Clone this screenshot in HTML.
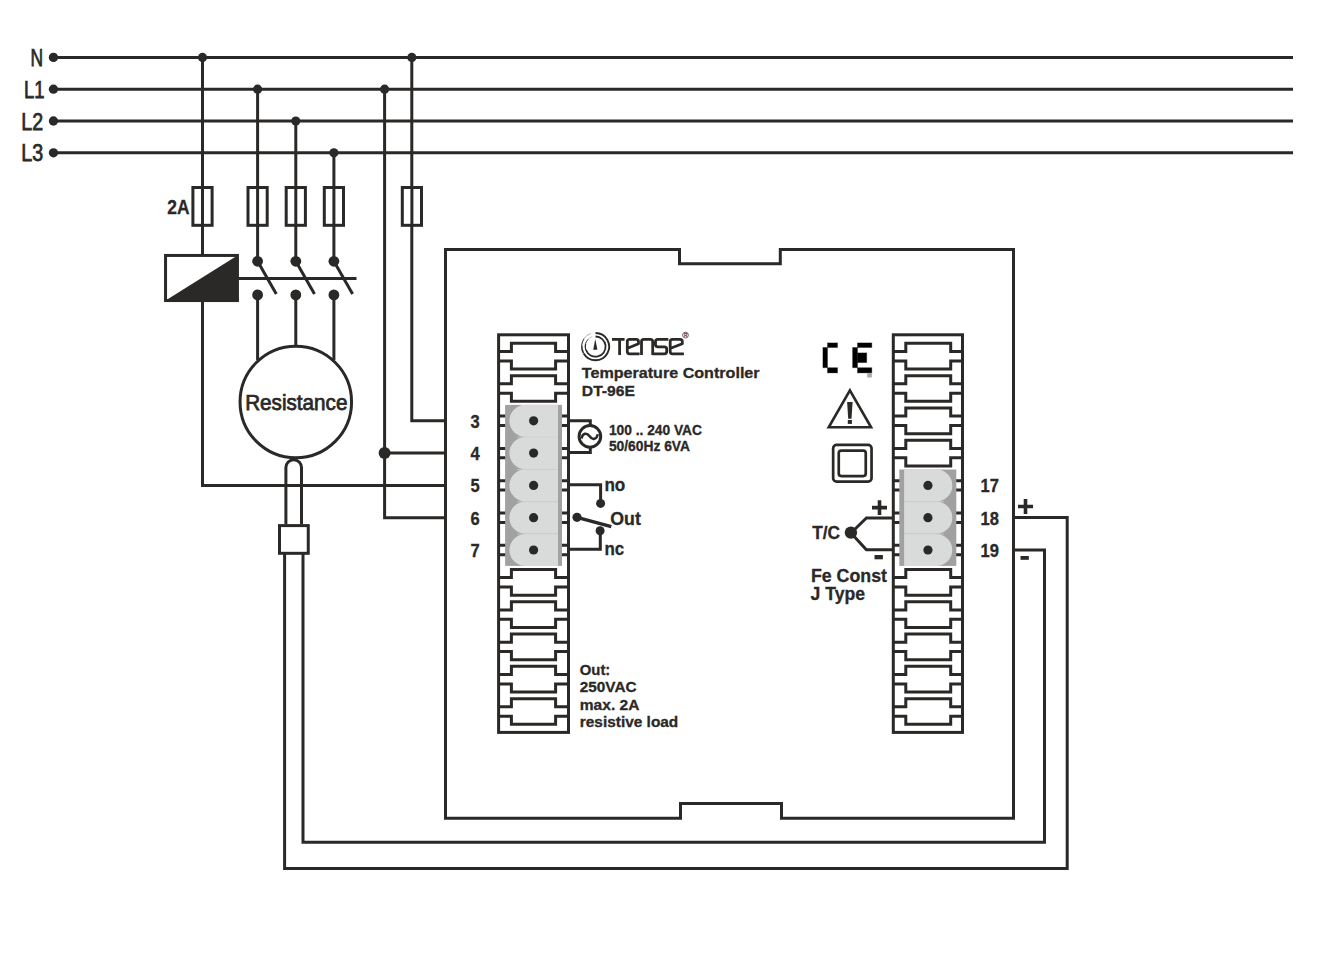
<!DOCTYPE html>
<html><head><meta charset="utf-8"><title>Wiring diagram</title>
<style>
html,body{margin:0;padding:0;background:#fff;width:1324px;height:978px;overflow:hidden}
svg{display:block}
.g path,.g rect,.g circle{fill:none;stroke:#2a2927;stroke-width:3;stroke-linecap:butt;stroke-linejoin:miter}
.g .w{fill:#fff}
.g .d{fill:#2a2927;stroke:none}
.g .fl{fill:#2a2927;stroke:none}
.g .lg{fill:#d9dbda;stroke:none}
.g .dg{fill:#a0a1a0;stroke:none}
.g .bk{fill:#000;stroke:rgba(0,0,0,0.3);stroke-width:1}
text{font-family:"Liberation Sans",sans-serif;fill:#2a2927;stroke:#2a2927;stroke-width:0}
</style></head><body>
<svg width="1324" height="978" viewBox="0 0 1324 978">
<rect width="1324" height="978" fill="#fff"/>
<g class="g">
<path d="M53.4 57.4 H1293"/>
<path d="M53.4 89.2 H1293"/>
<path d="M53.4 121 H1293"/>
<path d="M53.4 152.8 H1293"/>
<circle class="d" cx="53.45" cy="57.4" r="4.65"/>
<circle class="d" cx="53.45" cy="89.2" r="4.65"/>
<circle class="d" cx="53.45" cy="121" r="4.65"/>
<circle class="d" cx="53.45" cy="152.8" r="4.65"/>
<path d="M202.5 57.4 V254 M202.5 302 V485.5 H445.5"/>
<circle class="d" cx="202.5" cy="57.4" r="4.6"/>
<path d="M257.6 89.2 V261.3"/>
<circle class="d" cx="257.6" cy="89.2" r="4.6"/>
<path d="M295.8 121 V261.3"/>
<circle class="d" cx="295.8" cy="121" r="4.6"/>
<path d="M333.9 152.8 V261.3"/>
<circle class="d" cx="333.9" cy="152.8" r="4.6"/>
<path d="M257.6 294.9 V360 M295.8 294.9 V346.5 M333.9 294.9 V360"/>
<path d="M384.6 89.2 V517.7 H445.5 M384.6 453.1 H445.5"/>
<circle class="d" cx="384.6" cy="89.2" r="4.6"/>
<circle class="d" cx="384.6" cy="453.1" r="6"/>
<path d="M411.8 57.4 V420.7 H445.5"/>
<circle class="d" cx="411.8" cy="57.4" r="4.6"/>
<rect class="w" x="192.9" y="187.5" width="19.2" height="37.8"/>
<path d="M202.5 187.6 V225.4"/>
<rect class="w" x="248" y="187.5" width="19.2" height="37.8"/>
<path d="M257.6 187.6 V225.4"/>
<rect class="w" x="286.2" y="187.5" width="19.2" height="37.8"/>
<path d="M295.8 187.6 V225.4"/>
<rect class="w" x="324.3" y="187.5" width="19.2" height="37.8"/>
<path d="M333.9 187.6 V225.4"/>
<rect class="w" x="402.3" y="187.5" width="19.2" height="37.8"/>
<path d="M411.9 187.6 V225.4"/>
<rect class="w" x="165.55" y="255.45" width="71.9" height="45.1"/>
<path class="fl" d="M165.6 300.5 L237.45 255.45 V300.5 Z"/>
<path d="M237.45 278.5 H356.5"/>
<circle class="d" cx="257.6" cy="261.3" r="5.4"/>
<circle class="d" cx="257.6" cy="294.9" r="5.4"/>
<path d="M257.6 261.3 L276.3 294"/>
<circle class="d" cx="295.8" cy="261.3" r="5.4"/>
<circle class="d" cx="295.8" cy="294.9" r="5.4"/>
<path d="M295.8 261.3 L314.5 294"/>
<circle class="d" cx="333.9" cy="261.3" r="5.4"/>
<circle class="d" cx="333.9" cy="294.9" r="5.4"/>
<path d="M333.9 261.3 L352.6 294"/>
<circle class="w" cx="295.8" cy="401.95" r="55.75"/>
<path d="M285.9 524 V467.5 A7.8 7.8 0 0 1 301.5 467.5 V524"/>
<rect class="w" x="279.5" y="525.6" width="28.75" height="27.7"/>
<path d="M284.6 553 V868.4 H1067.2 V517.6 H1013.5 M303.0 553 V842.3 H1044.5 V550 H1013.5"/>
<path class="w" d="M445.5 249.5 H679.5 V263.7 H780.3 V249.5 H1013.5 V818.2 H781.5 V803.6 H680.5 V818.2 H445.5 Z"/>
<rect class="w" x="498.6" y="334.8" width="69.9" height="397.6"/>
<path d="M498.6 351.5 H511.4 V343.35 H555.6 V351.5 H568.5 M498.6 360.9 H511.4 V369.05 H555.6 V360.9 H568.5 M498.6 383.8 H511.4 V375.65 H555.6 V383.8 H568.5 M498.6 393.2 H511.4 V401.35 H555.6 V393.2 H568.5 M498.6 416.1 H511.4 V407.95 H555.6 V416.1 H568.5 M498.6 425.5 H511.4 V433.65 H555.6 V425.5 H568.5 M498.6 448.4 H511.4 V440.25 H555.6 V448.4 H568.5 M498.6 457.8 H511.4 V465.95 H555.6 V457.8 H568.5 M498.6 480.7 H511.4 V472.55 H555.6 V480.7 H568.5 M498.6 490.1 H511.4 V498.25 H555.6 V490.1 H568.5 M498.6 513 H511.4 V504.85 H555.6 V513 H568.5 M498.6 522.4 H511.4 V530.55 H555.6 V522.4 H568.5 M498.6 545.3 H511.4 V537.15 H555.6 V545.3 H568.5 M498.6 554.7 H511.4 V562.85 H555.6 V554.7 H568.5 M498.6 577.6 H511.4 V569.45 H555.6 V577.6 H568.5 M498.6 587 H511.4 V595.15 H555.6 V587 H568.5 M498.6 609.9 H511.4 V601.75 H555.6 V609.9 H568.5 M498.6 619.3 H511.4 V627.45 H555.6 V619.3 H568.5 M498.6 642.2 H511.4 V634.05 H555.6 V642.2 H568.5 M498.6 651.6 H511.4 V659.75 H555.6 V651.6 H568.5 M498.6 674.5 H511.4 V666.35 H555.6 V674.5 H568.5 M498.6 683.9 H511.4 V692.05 H555.6 V683.9 H568.5 M498.6 706.8 H511.4 V698.65 H555.6 V706.8 H568.5 M498.6 716.2 H511.4 V724.35 H555.6 V716.2 H568.5"/>
<rect class="dg" x="505.1" y="404.9" width="56.9" height="161"/>
<path class="lg" d="M558 404.7 H525.5 A16.1 16.1 0 0 0 525.5 436.9 H558 Z"/>
<circle class="d" cx="533.6" cy="420.8" r="4.6"/>
<path class="lg" d="M558 437 H525.5 A16.1 16.1 0 0 0 525.5 469.2 H558 Z"/>
<circle class="d" cx="533.6" cy="453.1" r="4.6"/>
<path class="lg" d="M558 469.3 H525.5 A16.1 16.1 0 0 0 525.5 501.5 H558 Z"/>
<circle class="d" cx="533.6" cy="485.4" r="4.6"/>
<path class="lg" d="M558 501.6 H525.5 A16.1 16.1 0 0 0 525.5 533.8 H558 Z"/>
<circle class="d" cx="533.6" cy="517.7" r="4.6"/>
<path class="lg" d="M558 533.9 H525.5 A16.1 16.1 0 0 0 525.5 566.1 H558 Z"/>
<circle class="d" cx="533.6" cy="550" r="4.6"/>
<path style="stroke:#cdcfce;stroke-width:0.8" d="M517.1 437.15 H558"/>
<path style="stroke:#cdcfce;stroke-width:0.8" d="M517.1 469.45 H558"/>
<path style="stroke:#cdcfce;stroke-width:0.8" d="M517.1 501.75 H558"/>
<path style="stroke:#cdcfce;stroke-width:0.8" d="M517.1 534.05 H558"/>
<rect class="w" x="893.3" y="334.8" width="69.2" height="397.6"/>
<path d="M893.3 351.5 H905.8 V343.35 H950.7 V351.5 H962.5 M893.3 360.9 H905.8 V369.05 H950.7 V360.9 H962.5 M893.3 383.8 H905.8 V375.65 H950.7 V383.8 H962.5 M893.3 393.2 H905.8 V401.35 H950.7 V393.2 H962.5 M893.3 416.1 H905.8 V407.95 H950.7 V416.1 H962.5 M893.3 425.5 H905.8 V433.65 H950.7 V425.5 H962.5 M893.3 448.4 H905.8 V440.25 H950.7 V448.4 H962.5 M893.3 457.8 H905.8 V465.95 H950.7 V457.8 H962.5 M893.3 480.7 H905.8 V472.55 H950.7 V480.7 H962.5 M893.3 490.1 H905.8 V498.25 H950.7 V490.1 H962.5 M893.3 513 H905.8 V504.85 H950.7 V513 H962.5 M893.3 522.4 H905.8 V530.55 H950.7 V522.4 H962.5 M893.3 545.3 H905.8 V537.15 H950.7 V545.3 H962.5 M893.3 554.7 H905.8 V562.85 H950.7 V554.7 H962.5 M893.3 577.6 H905.8 V569.45 H950.7 V577.6 H962.5 M893.3 587 H905.8 V595.15 H950.7 V587 H962.5 M893.3 609.9 H905.8 V601.75 H950.7 V609.9 H962.5 M893.3 619.3 H905.8 V627.45 H950.7 V619.3 H962.5 M893.3 642.2 H905.8 V634.05 H950.7 V642.2 H962.5 M893.3 651.6 H905.8 V659.75 H950.7 V651.6 H962.5 M893.3 674.5 H905.8 V666.35 H950.7 V674.5 H962.5 M893.3 683.9 H905.8 V692.05 H950.7 V683.9 H962.5 M893.3 706.8 H905.8 V698.65 H950.7 V706.8 H962.5 M893.3 716.2 H905.8 V724.35 H950.7 V716.2 H962.5"/>
<rect class="dg" x="899.3" y="469.5" width="57" height="96.4"/>
<path class="lg" d="M904.1 469.3 H936.2 A16.1 16.1 0 0 1 936.2 501.5 H904.1 Z"/>
<circle class="d" cx="927.95" cy="485.4" r="4.6"/>
<path class="lg" d="M904.1 501.6 H936.2 A16.1 16.1 0 0 1 936.2 533.8 H904.1 Z"/>
<circle class="d" cx="927.95" cy="517.7" r="4.6"/>
<path class="lg" d="M904.1 533.9 H936.2 A16.1 16.1 0 0 1 936.2 566.1 H904.1 Z"/>
<circle class="d" cx="927.95" cy="550" r="4.6"/>
<path style="stroke:#cdcfce;stroke-width:0.8" d="M904.1 501.75 H944.3"/>
<path style="stroke:#cdcfce;stroke-width:0.8" d="M904.1 534.05 H944.3"/>
<path d="M568.5 420.7 H590.3 V425.6 M590.3 447.2 V452.6 H568.5"/>
<circle class="w" cx="589.9" cy="436.4" r="10.8"/>
<path style="stroke-width:2.5" d="M581.5 438.4 C582.6 433.2 586.6 432 589.6 436.3 C592.6 440.6 596.6 439.4 597.8 434.2"/>
<path d="M568.5 484.8 H600.6 V503.4 M600.3 530.7 V549.3 H568.5"/>
<circle class="d" cx="600.6" cy="503.4" r="4.5"/>
<circle class="d" cx="600.1" cy="530.7" r="4.5"/>
<circle class="d" cx="577" cy="517.3" r="4.6"/>
<path style="stroke-width:3.4" d="M577 517.3 L611.3 526.7"/>
<path d="M893.3 517.9 H866.4 L851 533 L866.4 549.8 H893.3"/>
<circle class="d" cx="850.9" cy="532.6" r="6.2"/>
<path style="stroke-width:3.6;stroke-linecap:butt" d="M872 507.65 H887 M879.5 500.2 V515.1"/>
<rect class="fl" x="874.5" y="555" width="8.4" height="4.3"/>
<path style="stroke-width:3.6;stroke-linecap:butt" d="M1018 506.5 H1033 M1025.5 499 V514"/>
<rect class="fl" x="1020.5" y="556" width="8.3" height="3.8"/>
<g><rect class="bk" x="827.5" y="342.9" width="10" height="4.6"/><rect class="bk" x="822.9" y="347.5" width="4.6" height="20.2"/><rect class="bk" x="827.5" y="367.7" width="10" height="5.2"/><rect class="bk" x="857.5" y="342.9" width="14.3" height="4.6"/><rect class="bk" x="852.6" y="347.5" width="4.9" height="20.2"/><rect class="bk" x="857.5" y="352.9" width="9.2" height="9.7"/><rect class="bk" x="857.5" y="367.7" width="14.3" height="5.2"/><rect class="bk" x="867.2" y="372.9" width="4.6" height="4.6" style="fill:#aaa;stroke:none"/></g>
<path class="w" style="stroke-width:2.6;stroke-linejoin:miter" d="M849.9 390.3 L828.7 427.3 H871.1 Z"/>
<path class="fl" d="M847.1 402 H852.6 L851.5 418.8 H848.2 Z"/>
<rect class="fl" x="847.8" y="420" width="4.1" height="3.9"/>
<rect class="w" style="stroke-width:2.7" x="833.15" y="444.95" width="38.4" height="36.7" rx="3.5"/>
<rect class="w" style="stroke-width:2.7" x="838.75" y="450.55" width="27" height="25.5" rx="2.5"/>
<g><path style="stroke-width:1.9" d="M595.5 333 A13.6 13.6 0 1 1 583.72 353.4"/><path style="stroke-width:1.5" d="M583.59 353.48 A13.75 13.75 0 0 1 581.8 345.4"/><path style="stroke-width:1" d="M581.65 345.39 A13.9 13.9 0 0 1 584.11 338.63"/><path style="stroke-width:0.6;stroke:#777" d="M584.03 338.57 A14 14 0 0 1 590.71 333.44"/><path style="stroke-width:1.8" d="M595.5 336.5 A10.1 10.1 0 1 1 586.01 350.05"/><path style="stroke-width:1.3" d="M585.87 350.11 A10.25 10.25 0 0 1 585.6 343.95"/><path style="stroke-width:0.9" d="M585.45 343.91 A10.4 10.4 0 0 1 588.15 339.25"/><path style="stroke-width:0.5;stroke:#888" d="M588.08 339.18 A10.5 10.5 0 0 1 592.26 336.61"/><path class="fl" d="M595.3 338.9 L597.4 349.8 H593.2 Z"/><path style="stroke-width:2.8;stroke-linejoin:round" d="M612 339.4 H624.6 M619.6 339.4 V355 M639.6 353.8 H629.6 Q627.3 353.8 627.3 351.5 V341.7 Q627.3 339.4 629.6 339.4 H636.2 Q638.5 339.4 638.5 341.7 V343.8 L627.6 348.3 M641.5 355 V341.7 Q641.5 339.4 643.8 339.4 H650.4 Q652.7 339.4 652.7 341.7 V355 M668.4 339.4 H657.8 Q655.5 339.4 655.5 341.7 V344.6 Q655.5 346.9 657.8 346.9 H664.4 Q666.7 346.9 666.7 349.2 V351.5 Q666.7 353.8 664.4 353.8 H652.5 M683.9 353.8 H672.5 Q670.2 353.8 670.2 351.5 V341.7 Q670.2 339.4 672.5 339.4 H680 Q682.3 339.4 682.3 341.7 V343.8 L670.6 348.3"/><circle cx="685.5" cy="335.1" r="2.9" style="stroke-width:0.7"/></g>
</g>
<g>
<text x="684.1" y="336.9" style="font-size:4.6px;font-weight:bold">R</text>
<text x="30.6" y="65.9" style="font-size:23px;font-weight:normal;stroke-width:0.75" textLength="12.6" lengthAdjust="spacingAndGlyphs">N</text>
<text x="24" y="97.8" style="font-size:23px;font-weight:normal;stroke-width:0.75" textLength="20.6" lengthAdjust="spacingAndGlyphs">L1</text>
<text x="21.3" y="130.2" style="font-size:23px;font-weight:normal;stroke-width:0.75" textLength="21.9" lengthAdjust="spacingAndGlyphs">L2</text>
<text x="21.3" y="161" style="font-size:23px;font-weight:normal;stroke-width:0.75" textLength="21.9" lengthAdjust="spacingAndGlyphs">L3</text>
<text x="167.3" y="214.3" style="font-size:19.3px;font-weight:bold;stroke-width:0.3" textLength="22.2" lengthAdjust="spacingAndGlyphs">2A</text>
<text x="245.2" y="410" style="font-size:21.4px;font-weight:normal;stroke-width:0.75" textLength="102.2" lengthAdjust="spacingAndGlyphs">Resistance</text>
<text x="470.5" y="427.9" style="font-size:18.3px;font-weight:bold;stroke-width:0.3" textLength="9.2" lengthAdjust="spacingAndGlyphs">3</text>
<text x="470.5" y="459.7" style="font-size:18.3px;font-weight:bold;stroke-width:0.3" textLength="9.2" lengthAdjust="spacingAndGlyphs">4</text>
<text x="470.5" y="491.6" style="font-size:18.3px;font-weight:bold;stroke-width:0.3" textLength="9.2" lengthAdjust="spacingAndGlyphs">5</text>
<text x="470.5" y="524.6" style="font-size:18.3px;font-weight:bold;stroke-width:0.3" textLength="9.2" lengthAdjust="spacingAndGlyphs">6</text>
<text x="470.5" y="557.3" style="font-size:18.3px;font-weight:bold;stroke-width:0.3" textLength="9.2" lengthAdjust="spacingAndGlyphs">7</text>
<text x="581.8" y="377.7" style="font-size:15.4px;font-weight:bold;stroke-width:0.3" textLength="177.8" lengthAdjust="spacingAndGlyphs">Temperature Controller</text>
<text x="581.8" y="395.5" style="font-size:15.4px;font-weight:bold;stroke-width:0.3" textLength="53.2" lengthAdjust="spacingAndGlyphs">DT-96E</text>
<text x="608.9" y="435" style="font-size:14px;font-weight:bold;stroke-width:0.3" textLength="93.1" lengthAdjust="spacingAndGlyphs">100 .. 240 VAC</text>
<text x="608.9" y="450.5" style="font-size:14px;font-weight:bold;stroke-width:0.3" textLength="81.1" lengthAdjust="spacingAndGlyphs">50/60Hz 6VA</text>
<text x="604.4" y="490.8" style="font-size:18.4px;font-weight:bold;stroke-width:0.3" textLength="20.9" lengthAdjust="spacingAndGlyphs">no</text>
<text x="610.3" y="524.6" style="font-size:18.7px;font-weight:bold;stroke-width:0.3" textLength="30.6" lengthAdjust="spacingAndGlyphs">Out</text>
<text x="604.4" y="554.6" style="font-size:18.4px;font-weight:bold;stroke-width:0.3" textLength="19.8" lengthAdjust="spacingAndGlyphs">nc</text>
<text x="579.8" y="674.9" style="font-size:15.4px;font-weight:bold;stroke-width:0.3" textLength="30.5" lengthAdjust="spacingAndGlyphs">Out:</text>
<text x="579.8" y="692" style="font-size:15.4px;font-weight:bold;stroke-width:0.3" textLength="56.8" lengthAdjust="spacingAndGlyphs">250VAC</text>
<text x="579.8" y="709.8" style="font-size:15.4px;font-weight:bold;stroke-width:0.3" textLength="59.6" lengthAdjust="spacingAndGlyphs">max. 2A</text>
<text x="579.8" y="726.6" style="font-size:15.4px;font-weight:bold;stroke-width:0.3" textLength="98.5" lengthAdjust="spacingAndGlyphs">resistive load</text>
<text x="812.2" y="538.9" style="font-size:18.7px;font-weight:bold;stroke-width:0.3" textLength="27.9" lengthAdjust="spacingAndGlyphs">T/C</text>
<text x="810.9" y="581.8" style="font-size:18.9px;font-weight:bold;stroke-width:0.3" textLength="76.1" lengthAdjust="spacingAndGlyphs">Fe Const</text>
<text x="810.6" y="599.8" style="font-size:18.9px;font-weight:bold;stroke-width:0.3" textLength="54.4" lengthAdjust="spacingAndGlyphs">J Type</text>
<text x="980.6" y="492.3" style="font-size:17.9px;font-weight:bold;stroke-width:0.3" textLength="18.4" lengthAdjust="spacingAndGlyphs">17</text>
<text x="980.6" y="524.8" style="font-size:17.9px;font-weight:bold;stroke-width:0.3" textLength="18.4" lengthAdjust="spacingAndGlyphs">18</text>
<text x="980.6" y="557" style="font-size:17.9px;font-weight:bold;stroke-width:0.3" textLength="18.4" lengthAdjust="spacingAndGlyphs">19</text>
</g>
</svg>
</body></html>
